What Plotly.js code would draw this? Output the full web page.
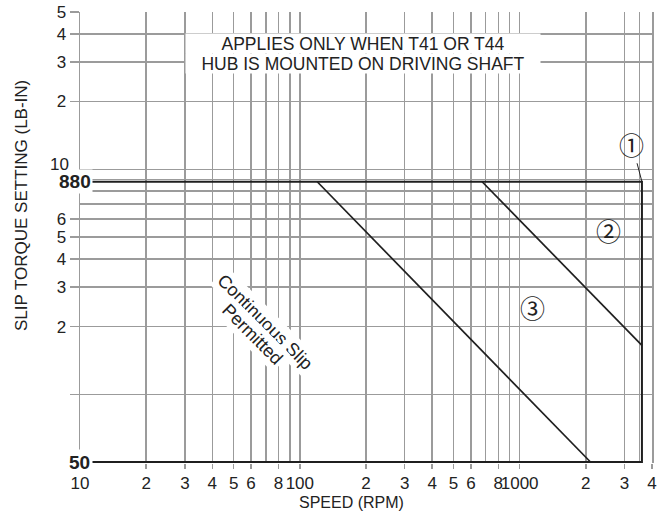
<!DOCTYPE html>
<html>
<head>
<meta charset="utf-8">
<script src="https://cdn.plot.ly/plotly-3.0.1.min.js"></script>
<style>html,body{margin:0;padding:0;background:#fff;}#chart{width:662px;height:514px;}</style>
</head>
<body>
<div id="chart"></div>
<script>
// ---- data ----
const limitSpeed  = [10, 3600, 3600, 10];      // RPM
const limitTorque = [880, 880, 50, 50];        // LB-IN
const line2Speed  = [675, 3600];
const line2Torque = [880, 165];
const line3Speed  = [120, 2100];
const line3Torque = [880, 50];

const xTickVals = [10,20,30,40,50,60,80,100,200,300,400,500,600,800,1000,2000,3000,4000];
const xTickText = ["10","2","3","4","5","6","8","100","2","3","4","5","6","8","1000","2","3","4"];
const xMinorVals = [70,90,700,900,3500];
const yTickVals = [100,200,300,400,500,600,2000,3000,4000,5000];
const yTickText = ["","2","3","4","5","6","2","3","4","5"];
const yMinorVals = [700,800,900,1000];

const FONT = "Liberation Sans, Arial, sans-serif";
const CIRC = "Noto Sans CJK JP, DejaVu Sans, sans-serif";
const GRID = "#9b9b9b";
const INK = "#1f1f1f";
const L = Math.log10;

const traces = [
  {x: limitSpeed, y: limitTorque, mode: "lines", line: {color: INK, width: 2}, hoverinfo: "skip"},
  {x: line2Speed, y: line2Torque, mode: "lines", line: {color: INK, width: 1.7}, hoverinfo: "skip"},
  {x: line3Speed, y: line3Torque, mode: "lines", line: {color: INK, width: 1.7}, hoverinfo: "skip"}
];

const layout = {
  width: 662, height: 514,
  margin: {l: 80, r: 10, t: 12, b: 51, pad: 0},
  paper_bgcolor: "#fff", plot_bgcolor: "#fff",
  showlegend: false,
  font: {family: FONT, size: 18, color: "#222"},
  xaxis: {
    type: "log", range: [L(10), L(4000)],
    tickmode: "array", tickvals: xTickVals, ticktext: xTickText, tickangle: 0,
    ticks: "outside", ticklen: 5, tickwidth: 1.5, tickcolor: GRID,
    showgrid: true, gridcolor: GRID, gridwidth: 1.5,
    minor: {tickmode: "array", tickvals: xMinorVals, showgrid: true, gridcolor: GRID, gridwidth: 1.5, ticks: ""},
    showline: false, zeroline: false, automargin: false,
    tickfont: {family: FONT, size: 17, color: "#222"}
  },
  yaxis: {
    type: "log", range: [L(49.5), L(5000)],
    tickmode: "array", tickvals: yTickVals, ticktext: yTickText, tickangle: 0,
    ticks: "outside", ticklen: 9, tickwidth: 1.5, tickcolor: GRID,
    showgrid: true, gridcolor: GRID, gridwidth: 1.5,
    minor: {tickmode: "array", tickvals: yMinorVals, showgrid: true, gridcolor: GRID, gridwidth: 1.5, ticks: ""},
    showline: true, linecolor: GRID, linewidth: 1.5, mirror: true,
    zeroline: false, automargin: false,
    tickfont: {family: FONT, size: 17, color: "#222"}
  },
  annotations: [
    {xref: "paper", yref: "paper", x: 0.4948, y: (463-33)/451, text: "APPLIES ONLY WHEN T41 OR T44",
     showarrow: false, bgcolor: "#fff", width: 354, height: 19, borderpad: 0,
     font: {family: FONT, size: 17.5, color: "#222"}},
    {xref: "paper", yref: "paper", x: 0.4948, y: (463-52.5)/451, text: "HUB IS MOUNTED ON DRIVING SHAFT",
     showarrow: false, bgcolor: "#fff", width: 354, height: 19, borderpad: 0,
     font: {family: FONT, size: 17.5, color: "#222"}},
    {xref: "x", yref: "y", x: 1.8417, y: 2.3212, text: "Continuous Slip", textangle: 45,
     showarrow: false, bgcolor: "#fff", borderpad: 2, font: {family: FONT, size: 18, color: "#222"}},
    {xref: "x", yref: "y", x: 1.7825, y: 2.2679, text: "Permitted", textangle: 45,
     showarrow: false, bgcolor: "#fff", borderpad: 2, font: {family: FONT, size: 18, color: "#222"}},
    {xref: "x", yref: "y", x: L(3600), y: L(880), ax: -10, ay: -38, text: "①",
     showarrow: true, arrowhead: 0, arrowwidth: 1, arrowcolor: INK, standoff: 0,
     font: {family: CIRC, size: 25, color: "#222"}},
    {xref: "x", yref: "y", x: 3.4022, y: 2.7301, text: "②", showarrow: false,
     font: {family: CIRC, size: 25, color: "#222"}},
    {xref: "x", yref: "y", x: 3.0564, y: 2.3879, text: "③", showarrow: false,
     font: {family: CIRC, size: 25, color: "#222"}},
    {xref: "paper", yref: "y", x: (93-80)/572, y: L(880), xanchor: "right", yanchor: "middle",
     text: "<b>880</b>", showarrow: false, bgcolor: "#fff", borderpad: 1,
     font: {family: FONT, size: 19, color: "#222"}},
    {xref: "paper", yref: "y", x: (93-80)/572, y: L(50), xanchor: "right", yanchor: "middle",
     text: "<b>50</b>", showarrow: false, bgcolor: "#fff", borderpad: 2,
     font: {family: FONT, size: 19, color: "#222"}},
    {xref: "paper", yref: "y", x: (71-80)/572, y: L(1000), yshift: 5, xanchor: "right", yanchor: "middle",
     text: "10", showarrow: false, font: {family: FONT, size: 17, color: "#222"}},
    {xref: "paper", yref: "paper", x: (351-80)/572, y: (463-502)/451, xanchor: "center", yanchor: "middle",
     text: "SPEED (RPM)", showarrow: false, font: {family: FONT, size: 16, color: "#222"}},
    {xref: "paper", yref: "paper", x: (21-80)/572, y: (463-206)/451, xanchor: "center", yanchor: "middle",
     text: "SLIP TORQUE SETTING (LB-IN)", textangle: -90, showarrow: false,
     font: {family: FONT, size: 17, color: "#222"}}
  ]
};

Plotly.newPlot("chart", traces, layout, {staticPlot: true, displayModeBar: false});
</script>
</body>
</html>
